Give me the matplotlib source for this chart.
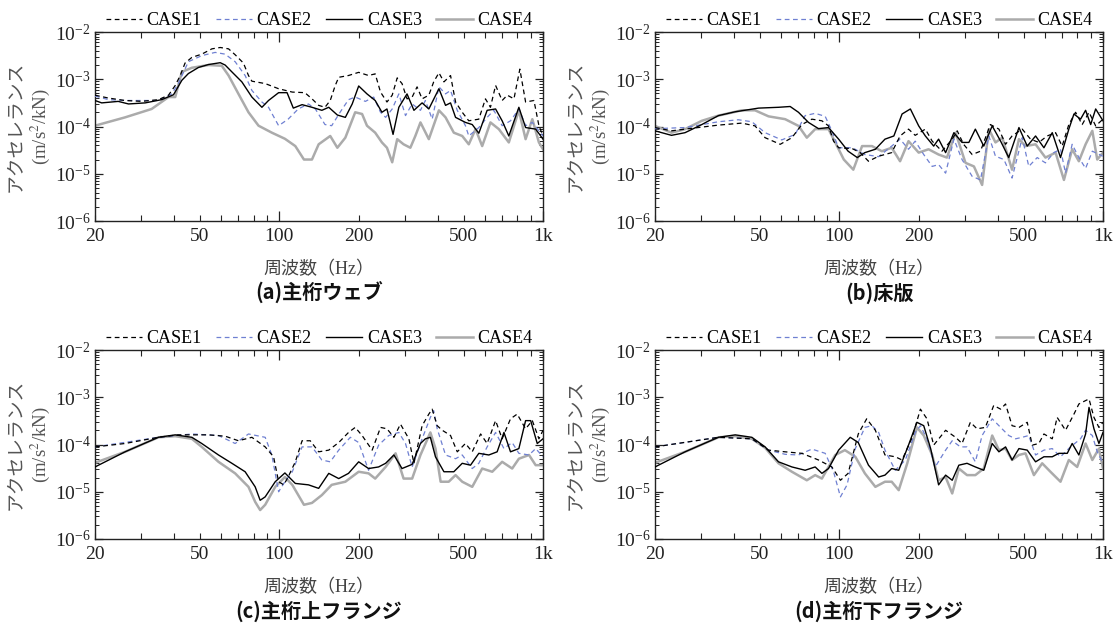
import matplotlib
matplotlib.use('Agg')
import matplotlib.pyplot as plt
from matplotlib.ticker import FixedLocator, FuncFormatter, LogLocator, NullFormatter

plt.rcParams['font.family'] = ['Liberation Serif', 'Noto Sans CJK JP']
plt.rcParams['mathtext.fontset'] = 'stix'

# ============================================================
# Data: frequency [Hz], accelerance [m/s^2/kN]
# ============================================================
case_names = ['CASE1', 'CASE2', 'CASE3', 'CASE4']
panel_titles = ['(a)主桁ウェブ', '(b)床版', '(c)主桁上フランジ', '(d)主桁下フランジ']

# (a) main girder web
a1_f = [20, 22.5, 26.0, 30.1, 34.8, 38.0, 40.3, 42.1, 43.9, 46.6, 50.8, 55.5, 59.7, 64.2, 68.0, 73.1, 76.4, 78.7, 88.4, 99.4,
        112, 125, 133, 141, 149, 156, 163, 168, 183, 200, 218, 231, 242, 256, 268, 280, 292, 305, 319, 333,
        348, 369, 385, 403, 421, 446, 466, 494, 523, 571, 605, 632, 661, 700, 732, 776, 817, 859, 924, 965, 1000]
a1_v = [4.6e-4, 4.0e-4, 3.55e-4, 3.4e-4, 3.7e-4, 4.6e-4, 7.4e-4, 1.2e-3, 2.2e-3, 2.9e-3, 3.4e-3, 4.4e-3, 4.7e-3, 4.4e-3, 3.3e-3,
        2.2e-3, 1.2e-3, 9.1e-4, 8.1e-4, 6.3e-4, 5.35e-4, 5.2e-4, 3.85e-4, 2.8e-4, 2.55e-4, 3.55e-4, 7.4e-4, 1.1e-3, 1.2e-3, 1.4e-3,
        1.2e-3, 1.3e-3, 5.35e-4, 3.3e-4, 4.6e-4, 1.07e-3, 8.1e-4, 3.85e-4, 4.2e-4, 6.9e-4, 3.85e-4, 4.6e-4, 8.8e-4, 1.37e-3, 8.8e-4,
        1.2e-3, 3.3e-4, 2.0e-4, 1.32e-4, 1.43e-4, 3.85e-4, 2.55e-4, 7.4e-4, 3.55e-4, 4.6e-4, 3.85e-4, 1.64e-3, 3.3e-4, 3.55e-4, 1.04e-4,
        6.3e-5]
a2_f = [20, 22.5, 26.0, 34.8, 39.1, 41.4, 45.2, 50.8, 57.1, 62.3, 68.0, 74.2, 78.7, 85.9, 91.0, 99.4, 108, 118, 129, 137,
        149, 158, 170, 183, 194, 212, 228, 242, 253, 268, 284, 301, 319, 343, 358, 380, 403, 427, 446, 473,
        508, 523, 571, 614, 651, 700, 753, 810, 859, 911, 1000]
a2_v = [4.4e-4, 3.7e-4, 3.55e-4, 3.55e-4, 4.9e-4, 8.1e-4, 2.35e-3, 3.16e-3, 3.7e-3, 3.4e-3, 2.35e-3, 1.2e-3, 5.8e-4, 3.3e-4, 2.55e-4,
        1.04e-4, 1.43e-4, 2.35e-4, 3.0e-4, 2.35e-4, 1.1e-4, 1.04e-4, 2.0e-4, 3.7e-4, 4.2e-4, 3.4e-4, 4.2e-4, 2.0e-4, 1.56e-4, 2.35e-4,
        4.9e-4, 1.7e-4, 3.0e-4, 2.2e-4, 3.55e-4, 1.43e-4, 6.9e-4, 4.9e-4, 5.8e-4, 2.2e-4, 1.04e-4, 6.3e-5, 9.5e-5, 1.56e-4, 2.2e-4,
        1.04e-4, 1.32e-4, 2.35e-4, 1.04e-4, 1.22e-4, 6.3e-5]
a3_f = [20, 21.2, 24.5, 26.8, 31.0, 35.8, 39.7, 42.7, 45.2, 49.4, 53.9, 59.7, 62.3, 66.1, 72.1, 78.7, 85.9, 91.0, 99.4, 107,
        113, 122, 133, 145, 154, 166, 178, 189, 200, 215, 231, 245, 256, 270, 284, 305, 324, 348, 369, 403,
        427, 446, 466, 508, 539, 571, 614, 661, 700, 742, 810, 859, 938, 1000]
a3_v = [3.55e-4, 3.16e-4, 3.4e-4, 3.0e-4, 3.16e-4, 3.7e-4, 4.7e-4, 9.5e-4, 1.32e-3, 1.78e-3, 2.05e-3, 2.24e-3, 2.0e-3, 1.43e-3, 8.8e-4,
        4.2e-4, 2.55e-4, 3.55e-4, 5.2e-4, 5.2e-4, 2.45e-4, 2.9e-4, 2.55e-4, 2.2e-4, 2.55e-4, 1.75e-4, 1.56e-4, 3.0e-4, 7.2e-4, 4.9e-4,
        3.55e-4, 2.0e-4, 2.35e-4, 6.8e-5, 2.55e-4, 4.9e-4, 2.2e-4, 3.16e-4, 2.35e-4, 6.3e-4, 2.8e-4, 3.16e-4, 1.56e-4, 1.22e-4, 1.1e-4,
        7.2e-5, 2.2e-4, 2.35e-4, 1.32e-4, 6.3e-5, 2.55e-4, 9.5e-5, 8.8e-5, 5.4e-5]
a4_f = [20, 26.0, 32.8, 38.0, 40.3, 42.7, 46.6, 53.9, 60.5, 64.2, 70.0, 76.4, 83.4, 93.7, 105, 115, 124, 133, 141, 156,
        166, 178, 194, 206, 215, 231, 245, 256, 268, 280, 296, 314, 328, 343, 369, 403, 427, 459, 494, 523,
        555, 588, 632, 680, 742, 810, 859, 911, 965, 1000]
a4_v = [1.04e-4, 1.56e-4, 2.35e-4, 4.2e-4, 4.2e-4, 1.43e-3, 1.75e-3, 2.0e-3, 1.93e-3, 1.2e-3, 4.9e-4, 2.0e-4, 1.04e-4, 7.4e-5, 5.5e-5,
        3.85e-5, 2.0e-5, 2.0e-5, 4.2e-5, 6.3e-5, 3.55e-5, 5.8e-5, 2.0e-4, 1.84e-4, 1.04e-4, 7.4e-5, 4.6e-5, 3.55e-5, 1.75e-5, 5.4e-5,
        4.2e-5, 3.55e-5, 6.3e-5, 1.22e-4, 5.4e-5, 2.2e-4, 1.56e-4, 7.4e-5, 6.3e-5, 4.2e-5, 8.8e-5, 3.85e-5, 1.22e-4, 8.8e-5, 4.6e-5,
        2.2e-4, 5.4e-5, 1.43e-4, 4.6e-5, 3.3e-5]

# (b) deck slab
b1_f = [20, 23.1, 26.0, 34.8, 42.7, 47.9, 52.3, 59.7, 66.1, 72.1, 78.7, 85.9, 91.0, 95.1, 99.4, 112, 120, 129, 141, 158,
        170, 183, 194, 212, 225, 245, 268, 280, 296, 319, 343, 374, 403, 427, 452, 494, 531, 571, 614, 661,
        700, 742, 787, 834, 885, 938, 1000]
b1_v = [9.5e-5, 8.1e-5, 8.8e-5, 1.07e-4, 1.18e-4, 1.03e-4, 5.8e-5, 4.2e-5, 5.8e-5, 1.1e-4, 1.43e-4, 1.32e-4, 1.03e-4, 4.9e-5, 3.55e-5,
        3.4e-5, 2.8e-5, 1.84e-5, 2.35e-5, 2.8e-5, 6.3e-5, 8.8e-5, 6.5e-5, 8.8e-5, 4.9e-5, 3.0e-5, 5.4e-5, 8.1e-5, 4.2e-5, 2.55e-5,
        3.0e-5, 1.1e-4, 8.8e-5, 4.2e-5, 6.3e-5, 8.8e-5, 5.4e-5, 4.6e-5, 6.3e-5, 7.4e-5, 3.85e-5, 1.1e-4, 2.0e-4, 1.1e-4, 2.0e-4,
        1.03e-4, 1.43e-4]
b2_f = [20, 26.0, 34.8, 41.4, 46.6, 52.3, 60.5, 68.0, 74.2, 81.0, 88.4, 93.7, 99.4, 112, 125, 141, 158, 170, 183, 194,
        209, 225, 238, 253, 272, 292, 319, 343, 369, 391, 421, 452, 494, 523, 563, 605, 651, 690, 721, 764,
        810, 859, 911, 1000]
b2_v = [9.0e-5, 9.5e-5, 1.26e-4, 1.39e-4, 1.26e-4, 7.4e-5, 5.2e-5, 6.8e-5, 1.7e-4, 1.9e-4, 1.64e-4, 8.1e-5, 3.55e-5, 3.55e-5, 2.55e-5,
        2.3e-5, 3.85e-5, 5.4e-5, 3.3e-5, 4.9e-5, 2.55e-5, 1.43e-5, 1.56e-5, 1.03e-5, 5.4e-5, 2.0e-5, 8.8e-6, 7.4e-6, 6.3e-5, 2.35e-5,
        2.0e-5, 8.1e-6, 5.8e-5, 1.43e-5, 2.2e-5, 1.7e-5, 2.8e-5, 3.3e-5, 1.03e-5, 4.2e-5, 2.2e-5, 1.3e-5, 3.0e-5, 2.35e-5]
b3_f = [20, 23.1, 26.0, 30.1, 34.8, 40.3, 49.4, 58.8, 65.1, 70.0, 76.4, 83.4, 91.0, 99.4, 108, 117, 125, 137, 149, 161,
        173, 186, 200, 212, 228, 238, 253, 272, 292, 310, 328, 353, 380, 409, 439, 480, 516, 555, 597, 642,
        690, 742, 776, 822, 859, 898, 938, 1000]
b3_v = [8.1e-5, 6.5e-5, 7.4e-5, 1.1e-4, 1.7e-4, 2.05e-4, 2.45e-4, 2.55e-4, 2.65e-4, 2.0e-4, 1.22e-4, 9.0e-5, 9.5e-5, 5.4e-5, 3.0e-5,
        2.2e-5, 2.8e-5, 3.3e-5, 5.4e-5, 6.3e-5, 1.84e-4, 2.35e-4, 1.03e-4, 6.3e-5, 3.85e-5, 5.4e-5, 2.8e-5, 7.4e-5, 4.6e-5, 4.6e-5,
        8.8e-5, 3.85e-5, 1.03e-4, 4.9e-5, 2.2e-5, 9.5e-5, 3.85e-5, 6.3e-5, 3.55e-5, 7.4e-5, 2.2e-5, 8.8e-5, 1.84e-4, 1.43e-4, 2.2e-4,
        1.1e-4, 2.35e-4, 1.32e-4]
b4_f = [20, 23.1, 26.0, 30.1, 34.8, 42.7, 47.9, 53.9, 62.3, 70.0, 75.3, 81.0, 91.0, 96.5, 104, 113, 122, 133, 145, 158,
        170, 183, 200, 218, 238, 256, 276, 301, 324, 348, 369, 391, 415, 452, 480, 508, 555, 605, 661, 711,
        764, 810, 859, 911, 951, 1000]
b4_v = [1.03e-4, 7.4e-5, 8.8e-5, 1.32e-4, 1.7e-4, 2.2e-4, 2.2e-4, 1.64e-4, 1.43e-4, 1.03e-4, 5.8e-5, 8.8e-5, 8.8e-5, 4.6e-5, 2.0e-5,
        1.22e-5, 3.85e-5, 3.85e-5, 3.0e-5, 3.55e-5, 1.84e-5, 4.9e-5, 2.8e-5, 3.3e-5, 2.55e-5, 2.2e-5, 7.4e-5, 1.7e-5, 1.43e-5, 5.8e-6,
        8.8e-5, 4.6e-5, 5.8e-5, 1.22e-5, 5.4e-5, 3.85e-5, 4.2e-5, 2.2e-5, 2.8e-5, 7.4e-6, 3.3e-5, 1.84e-5, 4.2e-5, 8.1e-5, 2.0e-5,
        2.8e-5]

# (c) main girder upper flange
c1_f = [20, 26.0, 34.8, 41.4, 53.9, 62.3, 70.0, 78.7, 88.4, 95.1, 99.4, 104, 108, 115, 122, 131, 141, 154, 168, 183,
        194, 206, 225, 242, 256, 272, 288, 310, 324, 348, 369, 380, 397, 415, 446, 473, 508, 539, 580, 614,
        661, 700, 753, 798, 859, 911, 965, 1000]
c1_v = [8.9e-5, 1.05e-4, 1.42e-4, 1.6e-4, 1.6e-4, 1.5e-4, 1.2e-4, 1.42e-4, 8.9e-5, 5.5e-5, 1.63e-5, 1.4e-5, 2.05e-5, 4.3e-5, 1.2e-4,
        1.2e-4, 7.0e-5, 7.6e-5, 1.1e-4, 1.8e-4, 2.3e-4, 1.55e-4, 7.6e-5, 2.3e-4, 2.15e-4, 1.42e-4, 2.7e-4, 1.32e-4, 4.0e-5, 2.5e-4,
        4.4e-4, 5.6e-4, 2.5e-4, 2.0e-4, 1.55e-4, 7.0e-5, 1.05e-4, 7.0e-5, 1.67e-4, 1.05e-4, 3.2e-4, 1.32e-4, 3.5e-4, 4.4e-4, 2.15e-4,
        3.2e-4, 1.32e-4, 2.0e-4]
c2_f = [20, 34.8, 46.6, 58.8, 68.0, 76.4, 88.4, 93.7, 99.4, 105, 112, 122, 133, 145, 156, 168, 186, 200, 218, 238,
        260, 284, 301, 319, 348, 374, 385, 397, 427, 466, 494, 539, 571, 614, 661, 711, 764, 810, 885, 938,
        1000]
c2_v = [8.9e-5, 1.42e-4, 1.67e-4, 1.55e-4, 1.05e-4, 1.67e-4, 1.42e-4, 6.0e-5, 1.0e-5, 1.63e-5, 2.65e-5, 8.9e-5, 8.9e-5, 4.7e-5, 4.3e-5,
        7.6e-5, 1.42e-4, 1.1e-4, 2.85e-5, 9.7e-5, 1.55e-4, 1.8e-4, 1.05e-4, 3.35e-5, 1.32e-4, 3.75e-4, 5.2e-4, 2.15e-4, 6.0e-5, 5.0e-5,
        6.0e-5, 3.1e-5, 4.0e-5, 8.9e-5, 1.8e-4, 8.2e-5, 1.1e-4, 6.5e-5, 6.0e-5, 8.2e-5, 5.5e-5]
c3_f = [20, 26.0, 34.8, 40.3, 46.6, 50.8, 58.8, 66.1, 74.2, 81.0, 84.6, 88.4, 96.5, 105, 115, 129, 141, 154, 168, 183,
        200, 218, 238, 253, 272, 292, 319, 343, 358, 374, 391, 421, 459, 494, 531, 571, 623, 670, 711, 753,
        810, 859, 898, 951, 1000]
c3_v = [3.35e-5, 7.0e-5, 1.42e-4, 1.6e-4, 1.42e-4, 1.05e-4, 6.0e-5, 4.0e-5, 2.65e-5, 1.27e-5, 6.6e-6, 7.8e-6, 1.63e-5, 2.5e-5, 1.5e-5,
        1.4e-5, 1.18e-5, 2.45e-5, 1.9e-5, 2.45e-5, 4.3e-5, 3.1e-5, 3.35e-5, 4.0e-5, 6.0e-5, 3.1e-5, 3.8e-5, 1.05e-4, 1.32e-4, 1.42e-4,
        5.5e-5, 2.65e-5, 2.65e-5, 4.0e-5, 3.65e-5, 6.5e-5, 6.0e-5, 7.0e-5, 1.8e-4, 7.0e-5, 8.2e-5, 3.2e-4, 3.2e-4, 1.05e-4, 1.32e-4]
c4_f = [20, 26.0, 34.8, 40.3, 46.6, 50.8, 58.8, 68.0, 76.4, 81.0, 84.6, 88.4, 96.5, 105, 112, 124, 133, 145, 158, 178,
        200, 218, 231, 253, 276, 296, 319, 343, 374, 391, 409, 439, 466, 494, 539, 588, 642, 700, 764, 810,
        885, 938, 1000]
c4_v = [4.1e-5, 7.0e-5, 1.42e-4, 1.5e-4, 1.32e-4, 8.9e-5, 4.3e-5, 2.45e-5, 1.27e-5, 6.1e-6, 4.1e-6, 5.3e-6, 1.27e-5, 2.05e-5, 1.4e-5,
        5.3e-6, 5.8e-6, 8.5e-6, 1.4e-5, 1.63e-5, 2.65e-5, 2.45e-5, 1.9e-5, 3.35e-5, 6.5e-5, 1.9e-5, 1.9e-5, 6.0e-5, 1.8e-4, 8.2e-5,
        1.63e-5, 1.63e-5, 2.25e-5, 1.63e-5, 1.27e-5, 3.1e-5, 2.65e-5, 4.3e-5, 3.1e-5, 5.0e-5, 6.0e-5, 3.65e-5, 3.65e-5]

# (d) main girder lower flange
d1_f = [20, 34.8, 46.6, 53.9, 62.3, 72.1, 83.4, 93.7, 101, 108, 118, 127, 137, 149, 163, 173, 189, 203, 215, 228,
        253, 276, 292, 314, 333, 358, 385, 409, 427, 452, 480, 516, 539, 571, 597, 642, 670, 721, 776, 810,
        859, 885, 924, 965, 1000]
d1_v = [8.9e-5, 1.42e-4, 1.32e-4, 7.6e-5, 7.0e-5, 6.5e-5, 4.7e-5, 3.35e-5, 1.75e-5, 2.45e-5, 1.67e-4, 3.5e-4, 2.0e-4, 6.0e-5, 5.5e-5,
        4.7e-5, 1.42e-4, 5.6e-4, 3.5e-4, 9.7e-5, 2.0e-4, 1.42e-4, 1.05e-4, 2.95e-4, 2.15e-4, 2.3e-4, 6.7e-4, 5.6e-4, 7.2e-4, 2.5e-4,
        2.3e-4, 2.95e-4, 9.7e-5, 1.05e-4, 1.67e-4, 1.32e-4, 3.75e-4, 2.0e-4, 4.4e-4, 7.2e-4, 8.5e-4, 9.2e-4, 3.75e-4, 2.3e-4, 2.95e-4]
d2_f = [20, 34.8, 46.6, 53.9, 62.3, 70.0, 78.7, 88.4, 95.1, 101, 107, 115, 125, 133, 141, 149, 163, 178, 194, 203,
        215, 231, 253, 268, 288, 305, 328, 348, 380, 409, 439, 466, 494, 523, 555, 597, 642, 690, 753, 822,
        859, 911, 951, 1000]
d2_v = [8.9e-5, 1.42e-4, 1.32e-4, 7.6e-5, 6.2e-5, 6.0e-5, 8.0e-5, 6.5e-5, 2.65e-5, 7.8e-6, 1.4e-5, 8.2e-5, 2.3e-4, 2.5e-4, 1.8e-4,
        7.6e-5, 2.85e-5, 4.7e-5, 1.8e-4, 2.5e-4, 1.32e-4, 3.35e-5, 7.6e-5, 1.2e-4, 8.9e-5, 8.9e-5, 4.3e-5, 1.55e-4, 3.5e-4, 2.3e-4,
        1.55e-4, 1.32e-4, 1.42e-4, 1.55e-4, 6.0e-5, 7.6e-5, 8.2e-5, 5.5e-5, 8.9e-5, 1.32e-4, 2.0e-4, 1.55e-4, 7.0e-5, 4.0e-5]
d3_f = [20, 26.0, 34.8, 40.3, 46.6, 52.3, 58.8, 66.1, 74.2, 81.0, 85.9, 91.0, 99.4, 110, 118, 129, 141, 149, 158, 168,
        183, 197, 209, 222, 238, 253, 268, 284, 305, 328, 353, 380, 403, 427, 452, 480, 516, 555, 597, 642,
        680, 732, 764, 810, 859, 885, 924, 965, 1000]
d3_v = [3.35e-5, 7.0e-5, 1.42e-4, 1.6e-4, 1.42e-4, 8.9e-5, 4.3e-5, 3.35e-5, 2.85e-5, 3.35e-5, 2.45e-5, 3.1e-5, 7.6e-5, 1.42e-4, 1.1e-4,
        3.65e-5, 2.05e-5, 2.25e-5, 3.1e-5, 2.85e-5, 9.7e-5, 2.95e-4, 2.5e-4, 8.2e-5, 1.4e-5, 2.25e-5, 1.75e-5, 3.65e-5, 4.0e-5, 3.35e-5,
        2.85e-5, 1.05e-4, 7.0e-5, 8.9e-5, 4.7e-5, 8.2e-5, 7.6e-5, 4.3e-5, 5.5e-5, 5.5e-5, 6.5e-5, 6.5e-5, 1.05e-4, 6.0e-5, 1.67e-4,
        6.1e-4, 2.15e-4, 1.05e-4, 1.8e-4]
d4_f = [20, 26.0, 34.8, 40.3, 46.6, 52.3, 58.8, 66.1, 75.3, 81.0, 85.9, 91.0, 96.5, 105, 115, 125, 137, 149, 158, 168,
        181, 197, 209, 225, 238, 253, 268, 284, 305, 328, 353, 380, 403, 427, 452, 480, 508, 547, 588, 632,
        690, 742, 798, 859, 911, 965, 1000]
d4_v = [4.1e-5, 7.0e-5, 1.42e-4, 1.5e-4, 1.32e-4, 8.5e-5, 4.0e-5, 2.65e-5, 1.75e-5, 2.25e-5, 1.9e-5, 3.35e-5, 6.0e-5, 7.6e-5, 5.5e-5,
        2.45e-5, 1.27e-5, 1.63e-5, 1.63e-5, 1.08e-5, 4.0e-5, 2.3e-4, 1.55e-4, 6.0e-5, 1.75e-5, 2.05e-5, 9.2e-6, 3.1e-5, 2.25e-5, 2.25e-5,
        3.1e-5, 1.55e-4, 7.6e-5, 8.2e-5, 4.7e-5, 6.0e-5, 6.5e-5, 2.25e-5, 4.0e-5, 2.65e-5, 1.63e-5, 4.7e-5, 3.35e-5, 1.05e-4, 4.7e-5,
        8.2e-5, 3.1e-5]

panels = [
    [(a1_f, a1_v), (a2_f, a2_v), (a3_f, a3_v), (a4_f, a4_v)],
    [(b1_f, b1_v), (b2_f, b2_v), (b3_f, b3_v), (b4_f, b4_v)],
    [(c1_f, c1_v), (c2_f, c2_v), (c3_f, c3_v), (c4_f, c4_v)],
    [(d1_f, d1_v), (d2_f, d2_v), (d3_f, d3_v), (d4_f, d4_v)],
]

# ============================================================
# Styles / layout
# ============================================================
styles = [
    dict(color='black', lw=0.9, ls=(0, (3.8, 2.8)), zorder=4),
    dict(color='#6f80d2', lw=0.9, ls=(0, (3.8, 2.8)), zorder=3),
    dict(color='black', lw=1.0, ls='-', zorder=5),
    dict(color='#ababab', lw=1.8, ls='-', zorder=2),
]

W, H = 1117, 628
boxes = [(95, 32, 543, 221), (655, 32, 1103, 221),
         (95, 350, 543, 539), (655, 350, 1103, 539)]

fig = plt.figure(figsize=(W / 100, H / 100), dpi=100)

minor_x = [20, 30, 40, 50, 60, 70, 80, 90, 200, 300, 400, 500, 600, 700, 800, 900]
minor_lab = {20: '20', 50: '50', 200: '200', 500: '500'}

for k, (l, t, r, b) in enumerate(boxes):
    ax = fig.add_axes([l / W, 1 - b / H, (r - l) / W, (b - t) / H])
    for name, (f, v), st in zip(case_names, panels[k], styles):
        ax.plot(f, v, label=name, **st)

    ax.set_xscale('log')
    ax.set_yscale('log')
    ax.set_xlim(20, 1000)
    ax.set_ylim(1e-6, 1e-2)

    ax.xaxis.set_major_locator(FixedLocator([100, 1000]))
    ax.xaxis.set_major_formatter(FuncFormatter(lambda x, p: '1k' if x >= 1000 else '%d' % x))
    ax.xaxis.set_minor_locator(FixedLocator(minor_x))
    ax.xaxis.set_minor_formatter(FuncFormatter(lambda x, p: minor_lab.get(int(round(x)), '')))
    ax.yaxis.set_major_locator(LogLocator(base=10, numticks=10))
    ax.yaxis.set_minor_locator(LogLocator(base=10, subs=range(2, 10), numticks=20))
    ax.yaxis.set_minor_formatter(NullFormatter())

    ax.tick_params(which='both', direction='in', top=True, right=True, colors='#222222')
    ax.tick_params(axis='x', which='major', length=7, width=0.9, labelsize=14, pad=5)
    ax.tick_params(axis='x', which='minor', length=4, width=0.8, labelsize=14, pad=5)
    ax.tick_params(axis='y', which='major', length=6, width=0.9, labelsize=14, pad=3)
    ax.tick_params(axis='y', which='minor', length=3, width=0.7)
    for sp in ax.spines.values():
        sp.set_linewidth(1.0)
        sp.set_color('#222222')

    ax.legend(loc='lower center', bbox_to_anchor=(0.5, 1.0), ncol=4, frameon=False,
              fontsize=13, handlelength=2.0, handletextpad=0.25, columnspacing=0.8,
              borderaxespad=0.0, borderpad=0.15)

    ax.text(0.5, -0.255, '周波数（Hz）', transform=ax.transAxes, ha='center', va='center',
            fontsize=13, color='#444444')
    ax.text(0.5, -0.38, panel_titles[k], transform=ax.transAxes, ha='center', va='center',
            fontsize=14.5, fontweight='bold', family=['Noto Sans CJK JP'], color='#111111')
    ax.text(-0.146, 0.5, 'アクセレランス\n(m/s$^2$/kN)', transform=ax.transAxes, rotation=90,
            ha='center', va='center', fontsize=13.5, color='#555555', linespacing=1.3)

fig.savefig('out.png', dpi=100)
